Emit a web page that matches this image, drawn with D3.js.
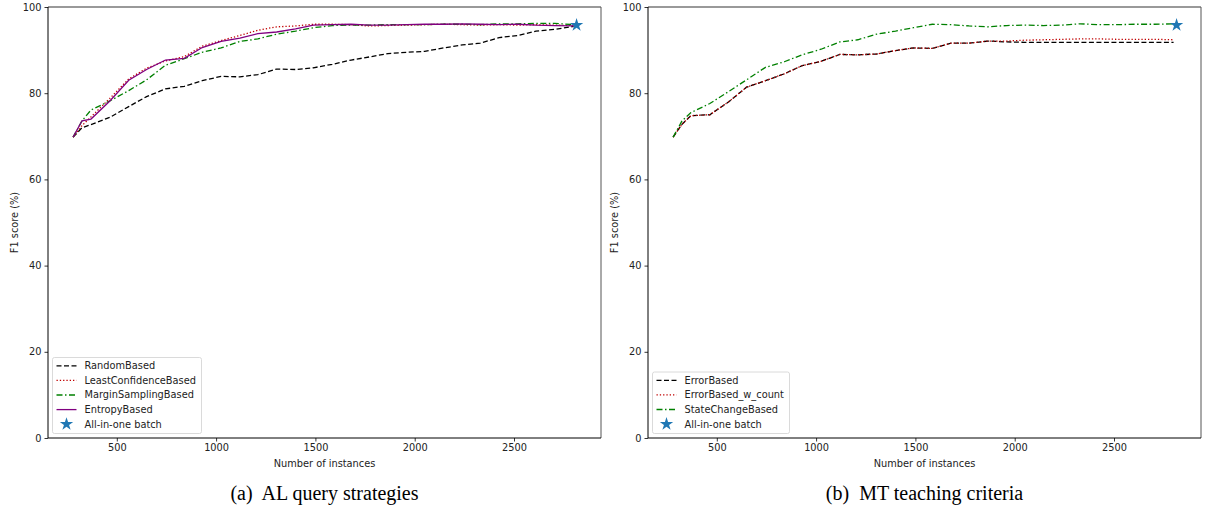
<!DOCTYPE html>
<html>
<head>
<meta charset="utf-8">
<script src="https://cdn.jsdelivr.net/npm/d3@7"></script>
<style>
  body { margin: 0; background: #fff; }
  text { font-family: "DejaVu Sans", sans-serif; }
</style>
</head>
<body>
<svg width="1205" height="510"></svg>
<script>
// number of labelled instances (shared x values)
var instances = [280, 325, 370, 465, 560, 650, 745, 840, 930, 1025, 1120, 1210, 1305, 1400, 1490,
  1585, 1680, 1770, 1865, 1960, 2050, 2145, 2240, 2330, 2425, 2520, 2610, 2705, 2800];

// (a) AL query strategies
var randomBased = [69.8, 72.0, 72.7, 74.4, 76.9, 79.2, 81.0, 81.6, 82.9, 83.9, 83.8, 84.3, 85.6, 85.5, 85.9,
  86.7, 87.7, 88.4, 89.2, 89.5, 89.7, 90.5, 91.2, 91.6, 92.9, 93.4, 94.4, 94.8, 95.5];
var leastConfidenceBased = [69.8, 72.5, 74.5, 78.8, 83.3, 85.8, 87.5, 88.5, 90.9, 92.2, 93.4, 94.6, 95.4, 95.6, 96.0,
  96.0, 95.9, 95.6, 95.7, 95.8, 95.9, 96.0, 95.9, 95.8, 95.9, 95.8, 95.9, 95.8, 95.7];
var marginSamplingBased = [69.8, 73.6, 76.1, 78.2, 80.6, 83.1, 86.5, 88.0, 89.5, 90.5, 92.0, 92.6, 93.7, 94.4, 95.2,
  95.7, 95.8, 95.8, 95.9, 95.9, 95.9, 96.0, 96.0, 95.9, 96.1, 96.1, 96.2, 96.2, 95.9];
var entropyBased = [69.8, 73.6, 74.0, 78.2, 83.0, 85.5, 87.7, 88.1, 90.6, 92.0, 92.8, 93.8, 94.2, 94.9, 95.8,
  95.9, 96.0, 95.8, 95.8, 95.9, 96.0, 96.0, 96.1, 96.0, 95.9, 96.0, 95.8, 95.7, 95.6];

// (b) MT teaching criteria
var errorBased = [69.8, 72.8, 74.8, 75.0, 78.0, 81.4, 82.9, 84.5, 86.4, 87.4, 89.0, 88.9, 89.1, 89.9, 90.5,
  90.4, 91.6, 91.6, 92.1, 91.9, 91.8, 91.8, 91.8, 91.8, 91.8, 91.8, 91.8, 91.8, 91.8];
var errorBasedWCount = [69.8, 72.8, 74.8, 75.0, 78.0, 81.4, 82.9, 84.5, 86.4, 87.4, 89.0, 88.9, 89.1, 89.9, 90.5,
  90.4, 91.6, 91.6, 92.1, 92.1, 92.3, 92.4, 92.5, 92.6, 92.6, 92.5, 92.5, 92.5, 92.4];
var stateChangeBased = [69.8, 73.6, 75.5, 77.6, 80.4, 83.1, 86.0, 87.3, 88.9, 90.2, 91.9, 92.4, 93.7, 94.4, 95.2,
  96.0, 95.9, 95.6, 95.4, 95.7, 95.8, 95.7, 95.8, 96.1, 95.9, 95.9, 96.0, 96.0, 96.1];

// all-in-one batch reference point
var allInOne = [2815, 95.8];

var xTicks = [500, 1000, 1500, 2000, 2500];
var yTicks = [0, 20, 40, 60, 80, 100];

var styles = {
  dashed: {color: "#000", dash: "5,2.5"},
  dotted: {color: "#c00000", dash: "1.3,2"},
  dashdot: {color: "#008000", dash: "6,2.5,1.5,2.5"},
  solid: {color: "#800080", dash: null}
};

var panels = [
  {
    left: 48, caption: "(a)  AL query strategies",
    series: [
      {name: "RandomBased", values: randomBased, style: styles.dashed},
      {name: "LeastConfidenceBased", values: leastConfidenceBased, style: styles.dotted},
      {name: "MarginSamplingBased", values: marginSamplingBased, style: styles.dashdot},
      {name: "EntropyBased", values: entropyBased, style: styles.solid}
    ],
    legend: {x: 52.5, y: 357.5, w: 149, h: 76}
  },
  {
    left: 648, caption: "(b)  MT teaching criteria",
    series: [
      {name: "ErrorBased", values: errorBased, style: styles.dashed},
      {name: "ErrorBased_w_count", values: errorBasedWCount, style: styles.dotted},
      {name: "StateChangeBased", values: stateChangeBased, style: styles.dashdot}
    ],
    legend: {x: 652.5, y: 372, w: 137, h: 61.5}
  }
];

var svg = d3.select("svg"),
  plotTop = 7,
  plotW = 553,
  plotH = 431,
  fs = 9.8;

var x = d3.scaleLinear().domain([153.6, 2938]).range([0, plotW]);
var y = d3.scaleLinear().domain([0, 100]).range([plotH, 0]);

var line = d3.line()
  .x(function(d) { return x(d[0]); })
  .y(function(d) { return y(d[1]); });

var star = d3.symbol().type(d3.symbolStar).size(55);

panels.forEach(function(p) {
  var g = svg.append("g")
    .attr("transform", "translate(" + p.left + "," + plotTop + ")");

  // lines
  p.series.forEach(function(s) {
    var pts = instances.map(function(v, i) { return [v, s.values[i]]; });
    g.append("path")
      .datum(pts)
      .attr("fill", "none")
      .attr("stroke", s.style.color)
      .attr("stroke-width", 1.3)
      .attr("stroke-dasharray", s.style.dash)
      .attr("d", line);
  });

  g.append("path")
    .attr("d", star)
    .attr("transform", "translate(" + x(allInOne[0]) + "," + y(allInOne[1]) + ")")
    .attr("fill", "#1f77b4");

  // axes
  var xAxis = g.append("g")
    .attr("transform", "translate(0," + plotH + ")")
    .call(d3.axisBottom(x).tickValues(xTicks).tickFormat(d3.format("d"))
      .tickSize(3.5).tickPadding(3).tickSizeOuter(0));
  var yAxis = g.append("g")
    .call(d3.axisLeft(y).tickValues(yTicks).tickFormat(d3.format("d"))
      .tickSize(3.5).tickPadding(3).tickSizeOuter(0));
  [xAxis, yAxis].forEach(function(a) {
    a.attr("font-family", null).attr("font-size", null);
    a.select(".domain").remove();
    a.selectAll("line").attr("stroke", "#000").attr("stroke-width", 0.8);
    a.selectAll("text").attr("font-size", fs).attr("fill", "#222");
  });

  // spines
  g.append("line").attr("x1", 0).attr("x2", plotW).attr("y1", 0).attr("y2", 0)
    .attr("stroke", "#777").attr("stroke-width", 1.3);
  g.append("line").attr("x1", plotW).attr("x2", plotW).attr("y1", 0).attr("y2", plotH)
    .attr("stroke", "#555").attr("stroke-width", 1);
  g.append("line").attr("x1", 0).attr("x2", plotW).attr("y1", plotH).attr("y2", plotH)
    .attr("stroke", "#000").attr("stroke-width", 1);
  g.append("line").attr("x1", 0).attr("x2", 0).attr("y1", 0).attr("y2", plotH)
    .attr("stroke", "#000").attr("stroke-width", 1);

  // axis titles
  g.append("text")
    .attr("x", plotW / 2)
    .attr("y", plotH + 29)
    .attr("text-anchor", "middle")
    .attr("font-size", fs)
    .attr("fill", "#222")
    .text("Number of instances");

  g.append("text")
    .attr("transform", "rotate(-90)")
    .attr("x", -plotH / 2)
    .attr("y", -30)
    .attr("text-anchor", "middle")
    .attr("font-size", fs)
    .attr("fill", "#222")
    .text("F1 score (%)");

  // legend
  var lg = svg.append("g");
  lg.append("rect")
    .attr("x", p.legend.x).attr("y", p.legend.y)
    .attr("width", p.legend.w).attr("height", p.legend.h)
    .attr("rx", 2)
    .attr("fill", "#fff")
    .attr("stroke", "#d0d0d0")
    .attr("stroke-width", 0.8);

  var entries = p.series.concat([{name: "All-in-one batch", marker: true}]);
  entries.forEach(function(e, i) {
    var ey = p.legend.y + 8.3 + i * 14.6;
    var lx = p.legend.x + 4;
    if (e.marker) {
      lg.append("path")
        .attr("d", star)
        .attr("transform", "translate(" + (lx + 10) + "," + ey + ")")
        .attr("fill", "#1f77b4");
    } else {
      lg.append("line")
        .attr("x1", lx).attr("x2", lx + 20)
        .attr("y1", ey).attr("y2", ey)
        .attr("stroke", e.style.color)
        .attr("stroke-width", 1.3)
        .attr("stroke-dasharray", e.style.dash);
    }
    lg.append("text")
      .attr("x", lx + 28)
      .attr("y", ey)
      .attr("dy", "0.35em")
      .attr("font-size", fs)
      .attr("fill", "#222")
      .text(e.name);
  });

  // caption
  svg.append("text")
    .attr("x", p.left + plotW / 2)
    .attr("y", 500)
    .attr("text-anchor", "middle")
    .style("font-family", "'Liberation Serif', serif")
    .attr("font-size", 20)
    .attr("fill", "#000")
    .style("white-space", "pre")
    .text(p.caption);
});
</script>
</body>
</html>
